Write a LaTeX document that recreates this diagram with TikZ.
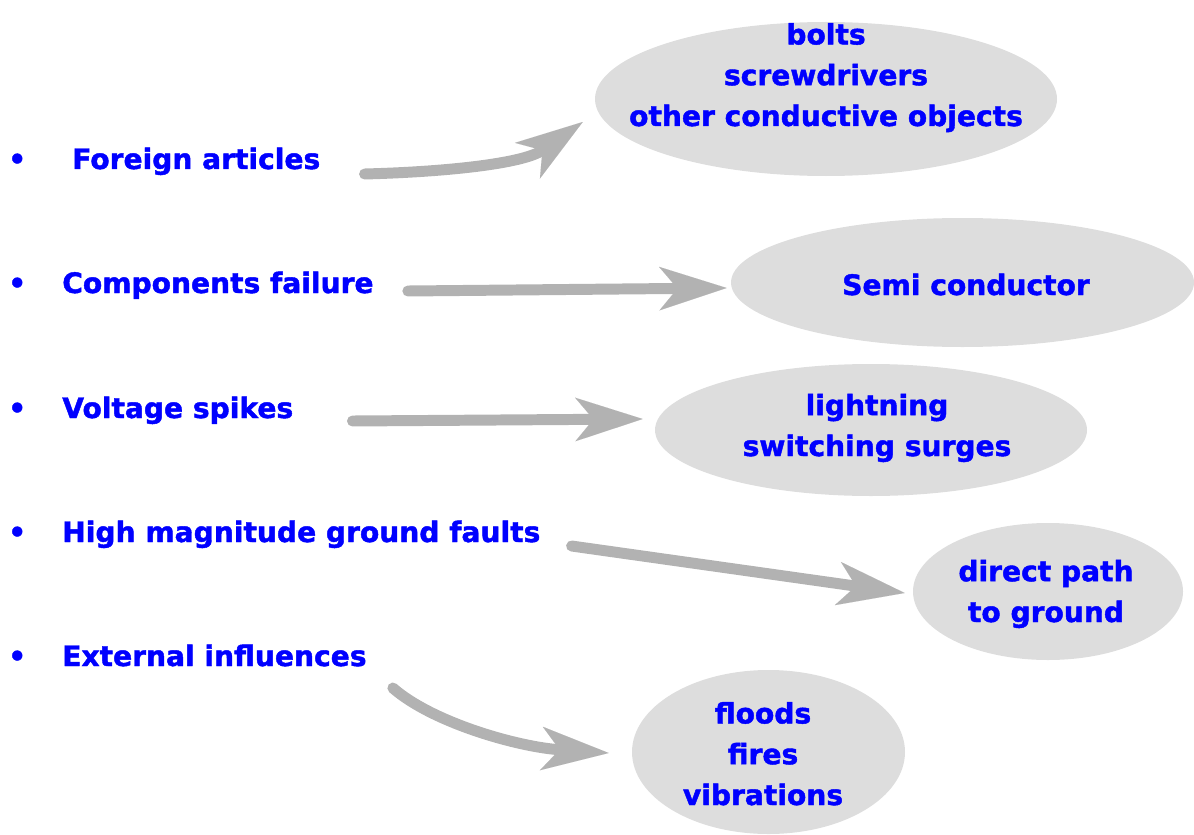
\documentclass[tikz,border=0pt]{standalone}
\usepackage{fontspec}
\setmainfont{DejaVu Sans}[BoldFeatures={FakeBold=1.5}]
\usetikzlibrary{arrows.meta,shapes.geometric}
\definecolor{itemblue}{RGB}{0,0,255}
\definecolor{blobgray}{RGB}{221,221,221}
\definecolor{arrowgray}{RGB}{178,178,178}
\begin{document}
\begin{tikzpicture}[x=0.025cm,y=-0.025cm,
    txt/.style={text=itemblue,font=\fontsize{20}{29}\selectfont\bfseries,inner sep=0pt},
    item/.style={txt,anchor=base west},
    inblob/.style={txt,align=center,anchor=base},
    blob/.style={ellipse,fill=blobgray,inner sep=0pt},
    arr/.style={draw=arrowgray,line width=7.8pt,line cap=round,
      -{Stealth[length=48pt,width=31pt,inset=13pt,line width=0.01pt]}}]
  \useasboundingbox (0,0) rectangle (1194,834);
  % grey blobs
  \node[blob,minimum width={462*0.025cm},minimum height={154*0.025cm}] (bo) at (826,99) {};
  \node[blob,minimum width={463*0.025cm},minimum height={129*0.025cm}] (se) at (962.5,282.5) {};
  \node[blob,minimum width={432*0.025cm},minimum height={132*0.025cm}] (li) at (871,430) {};
  \node[blob,minimum width={270*0.025cm},minimum height={137*0.025cm}] (di) at (1048,591.5) {};
  \node[blob,minimum width={273*0.025cm},minimum height={164*0.025cm}] (fl) at (768.5,752) {};
  % texts in the blobs (base = last line)
  \node[inblob] (bot) at (826,126) {bolts\\screwdrivers\\other conductive objects};
  \node[inblob] (set) at (966,295) {Semi conductor};
  \node[inblob] (lit) at (877,456) {lightning\\switching surges};
  \node[inblob] (dit) at (1046,622) {direct path\\to ground};
  \node[inblob] (flt) at (763,805) {floods\\fires\\vibrations};
  % left column
  \foreach \y in {169,293,418,542,666}
    \node[item] (b\y) at (8,\y) {\textbullet};
  \node[item] (fa) at (72,169) {Foreign articles};
  \node[item] (cf) at (62,293) {Components failure};
  \node[item] (vs) at (62,418) {Voltage spikes};
  \node[item] (hm) at (62,542) {High magnitude ground faults};
  \node[item] (ei) at (62,666) {External influences};
  % arrows
  \draw[arr] ([shift={(44,5)}]fa.base east) .. controls +(78,-2) and +(-60,42) .. ([shift={(-12,23)}]bo.west);
  \draw[arr] ([shift={(34,-2)}]cf.base east) -- ([shift={(-4,5.5)}]se.west);
  \draw[arr] ([shift={(59,3)}]vs.base east) -- ([shift={(-12,-11)}]li.west);
  \draw[arr] ([shift={(31,4)}]hm.base east) -- ([shift={(-8,1.5)}]di.west);
  \draw[arr] ([shift={(26,22)}]ei.base east) .. controls +(40,35) and +(-90,-6) .. ([shift={(-23,1)}]fl.west);
\end{tikzpicture}
\end{document}
